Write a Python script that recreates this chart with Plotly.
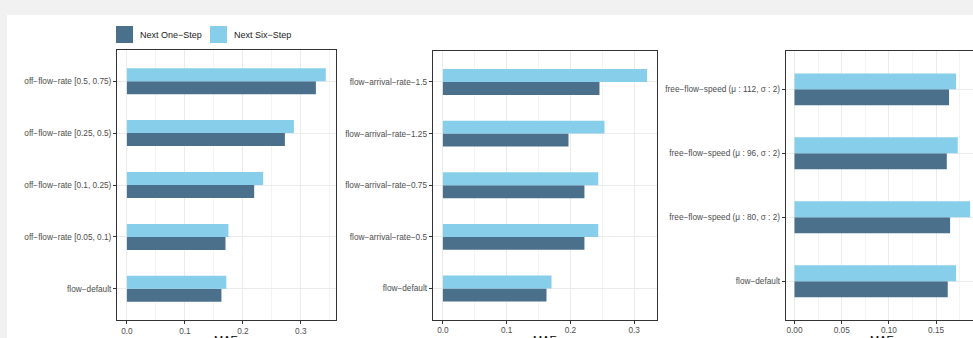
import plotly.graph_objects as go

W, H = 973, 338

# ---------------- data ----------------
series_names = ["Next One\u2212Step", "Next Six\u2212Step"]
colors = ["#4A708B", "#87CEEB"]

cats1 = ["flow\u2212default", "off\u2212flow\u2212rate [0.05, 0.1)", "off\u2212flow\u2212rate [0.1, 0.25)",
         "off\u2212flow\u2212rate [0.25, 0.5)", "off\u2212flow\u2212rate [0.5, 0.75)"]
one1 = [0.163, 0.170, 0.2195, 0.2725, 0.326]
six1 = [0.1715, 0.175, 0.235, 0.288, 0.343]

cats2 = ["flow\u2212default", "flow\u2212arrival\u2212rate\u22120.5", "flow\u2212arrival\u2212rate\u22120.75",
         "flow\u2212arrival\u2212rate\u22121.25", "flow\u2212arrival\u2212rate\u22121.5"]
one2 = [0.1625, 0.222, 0.222, 0.197, 0.2456]
six2 = [0.1704, 0.2436, 0.2436, 0.2534, 0.3203]

cats3 = ["flow\u2212default", "free\u2212flow\u2212speed (\u03bc : 80, \u03c3 : 2)",
         "free\u2212flow\u2212speed (\u03bc : 96, \u03c3 : 2)", "free\u2212flow\u2212speed (\u03bc : 112, \u03c3 : 2)"]
one3 = [0.1623, 0.1648, 0.1613, 0.1637]
six3 = [0.1711, 0.186, 0.1729, 0.1711]

x_title = "MAE"

panels = [(cats1, one1, six1), (cats2, one2, six2), (cats3, one3, six3)]

# ---------------- geometry (pixels) ----------------
px_x = [(117, 335.7), (432.7, 657.3), (785.7, 973)]
px_y = [(50, 320), (51, 319.5), (51, 319.5)]
full_right3 = 978.9  # panel 3 continues past the window edge

def fx(p):
    return p / W

def fy(p):
    return 1 - p / H

fig = go.Figure()

for i, (cats, one, six) in enumerate(panels):
    k = "" if i == 0 else str(i + 1)
    for name, vals, col in zip(series_names, [one, six], colors):
        fig.add_trace(go.Bar(
            y=cats, x=vals, orientation="h", name=name,
            marker=dict(color=col, line=dict(width=0)),
            xaxis="x" + k, yaxis="y" + k, showlegend=False,
            hovertemplate="%{y}: %{x}<extra>" + name + "</extra>",
        ))

tick_font = dict(family="Liberation Sans, Arial, sans-serif", size=8.25, color="#4d4d4d")
layout = dict(
    width=W, height=H, margin=dict(l=0, r=0, t=0, b=0),
    paper_bgcolor="#f1f1f1", plot_bgcolor="white",
    barmode="group", bargap=0.5, bargroupgap=0,
    font=dict(family="Liberation Sans, Arial, sans-serif"),
)

for i, (cats, one, six) in enumerate(panels):
    k = "" if i == 0 else str(i + 1)
    m = max(max(one), max(six))
    lo = -0.05 * m
    hi = 1.05 * m
    x0p, x1p = px_x[i]
    if i == 2:
        # visible part of the panel only
        hi = lo + (hi - lo) * (x1p - x0p) / (full_right3 - x0p)
    dt = 0.05 if i == 2 else 0.1
    layout["xaxis" + k] = dict(
        domain=[fx(x0p), fx(x1p)], anchor="y" + k, range=[lo, hi],
        tick0=0, dtick=dt, tickformat=".2f" if i == 2 else ".1f",
        showgrid=True, gridcolor="#ebebeb", gridwidth=1,
        minor=dict(showgrid=True, dtick=dt / 2, tick0=0, gridcolor="#f3f3f3", gridwidth=1),
        zeroline=False, showline=True, linecolor="#333333", linewidth=1, mirror=True,
        ticks="outside", ticklen=3, tickwidth=1, tickcolor="#333333",
        tickfont=tick_font, fixedrange=True,
    )
    y0p, y1p = px_y[i]
    layout["yaxis" + k] = dict(
        domain=[fy(y1p), fy(y0p)], anchor="x" + k,
        type="category", categoryorder="array", categoryarray=cats,
        range=[-0.6, len(cats) - 0.4],
        showgrid=True, gridcolor="#ebebeb", gridwidth=1,
        zeroline=False, showline=True, linecolor="#333333", linewidth=1,
        mirror=(i != 2),
        ticks="outside", ticklen=3, tickwidth=1, tickcolor="#333333",
        tickfont=tick_font, ticklabelstandoff=0, fixedrange=True,
    )

fig.update_layout(**layout)

# white card behind the chart
shapes = [dict(type="rect", xref="paper", yref="paper", x0=fx(7), x1=1.02, y0=-0.02, y1=fy(15),
               fillcolor="white", line=dict(width=0), layer="below")]

# legend keys (manual, ggplot style)
leg_x = [(116, 133), (210, 227)]
for (a, b), col in zip(leg_x, colors):
    shapes.append(dict(type="rect", xref="paper", yref="paper", x0=fx(a), x1=fx(b),
                       y0=fy(43), y1=fy(26), fillcolor=col, line=dict(width=0)))

annotations = []
for (a, b), name in zip(leg_x, series_names):
    annotations.append(dict(text=name, xref="paper", yref="paper", x=fx(b + 5), y=fy(34.5),
                            xanchor="left", yanchor="middle", showarrow=False,
                            font=dict(size=9, color="#1a1a1a")))

# axis titles (partly cut by the bottom edge, as in the reference)
centers = [(117 + 335.7) / 2, (432.7 + 657.3) / 2, (785.7 + full_right3) / 2]
for c in centers:
    annotations.append(dict(text=x_title, xref="paper", yref="paper", x=fx(c), y=fy(332),
                            xanchor="center", yanchor="top", showarrow=False,
                            font=dict(size=11, color="#000000")))

fig.update_layout(shapes=shapes, annotations=annotations)

fig.write_html("out.html")
